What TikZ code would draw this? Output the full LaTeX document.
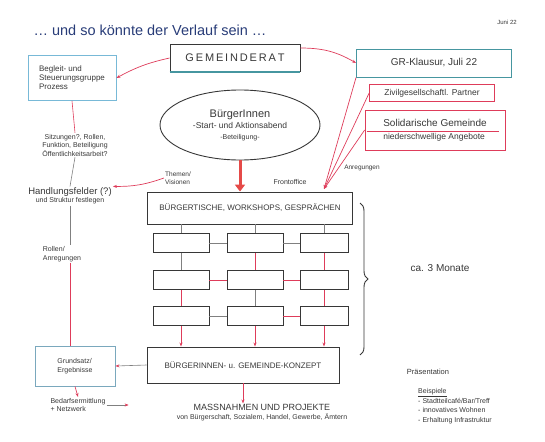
\documentclass[tikz,border=0pt]{standalone}
\usepackage{fontspec}
\setmainfont{Liberation Sans}
\usetikzlibrary{shapes.geometric,arrows.meta,decorations.pathreplacing,calc}
\definecolor{redpen}{RGB}{222,60,90}
\definecolor{navy}{RGB}{40,60,120}
\definecolor{pen}{RGB}{55,55,55}
\definecolor{bluepen}{RGB}{120,185,215}
\definecolor{tealpen}{RGB}{70,150,160}
\begin{document}
\begin{tikzpicture}[x=1pt,y=-1pt,
  every node/.style={text=pen},
  box/.style={draw=pen, line width=0.9pt, inner sep=2pt, align=center},
  redbox/.style={draw=redpen, line width=0.7pt, inner sep=2pt, align=center},
  bluebox/.style={draw=bluepen, line width=0.9pt, inner sep=3pt, align=left},
  cell/.style={draw=pen, line width=0.9pt, minimum height=19pt},
  note/.style={align=center, inner sep=1pt},
  redarr/.style={draw=redpen, line width=0.7pt, -{Stealth[length=4pt]}},
  redline/.style={draw=redpen, line width=0.6pt},
  grayline/.style={draw=gray, line width=0.6pt},
  grayarr/.style={draw=gray, line width=0.6pt, -{Stealth[length=4pt,color=redpen]}},
]
\useasboundingbox (0,0) rectangle (545,441);

% title
\node[note, text=navy, font=\fontsize{14.5}{16}\selectfont] (title) at (150,30) {… und so könnte der Verlauf sein …};
\node[note, font=\fontsize{6}{7}\selectfont] (date) at (507,22) {Juni 22};

% top boxes
\node[box, minimum width=130pt, minimum height=27pt, font=\fontsize{11}{13}\selectfont] (gr) at (235,58) {G\,E\,M\,E\,I\,N\,D\,E\,R\,A\,T};
\draw[tealpen, line width=1.2pt] (gr.south west) -- (gr.south east);
\node[box, draw=tealpen, minimum width=155pt, minimum height=28pt, font=\fontsize{10}{12}\selectfont] (kl) at (434,63) {GR-Klausur, Juli 22};
\node[bluebox, minimum width=88pt, minimum height=45pt, font=\fontsize{8}{9}\selectfont] (beg) at (72,78) {Begleit- und\\Steuerungsgruppe\\Prozess};
\node[redbox, minimum width=125pt, minimum height=17pt, font=\fontsize{8.5}{10}\selectfont] (ziv) at (432,93) {Zivilgesellschaftl. Partner};
\node[redbox, minimum width=140pt, minimum height=40pt, align=left, font=\fontsize{8.5}{13}\selectfont] (sol) at (435,130) {{\fontsize{10}{13}\selectfont Solidarische Gemeinde}\\niederschwellige Angebote};
\draw[redline] ($(sol.west)+(2,1)$) -- ($(sol.east)+(-6,1)$);

% left column
\node[note, font=\fontsize{7}{8.5}\selectfont] (sitz) at (75,145) {Sitzungen?, Rollen,\\Funktion, Beteiligung\\Öffentlichkeitsarbeit?};
\node[note, font=\fontsize{7}{8.5}\selectfont] (handl) at (70,196) {{\fontsize{9.5}{11}\selectfont Handlungsfelder (?)}\\und Struktur festlegen};
\node[note, align=left, font=\fontsize{7}{8.5}\selectfont] (rol) at (62,254) {Rollen/\\Anregungen};
\node[bluebox, draw=bluepen!70!gray, minimum width=80pt, minimum height=40pt, font=\fontsize{7}{8.5}\selectfont] (gru) at (75,366) {Grundsatz/\\Ergebnisse};
\node[note, align=left, font=\fontsize{7}{8.5}\selectfont] (bed) at (78,405) {Bedarfsermittlung\\+ Netzwerk};

% ellipse
\node[draw=pen, line width=0.9pt, ellipse, minimum width=160pt, minimum height=70pt, inner sep=0pt, align=center, font=\fontsize{8.5}{11}\selectfont] (ell) at (240,125) {{\fontsize{11}{13}\selectfont BürgerInnen}\\-Start- und Aktionsabend\\{\fontsize{7}{9}\selectfont -Beteiligung-}};

% small labels
\node[note, align=left, font=\fontsize{6.5}{7.5}\selectfont] (them) at (178,178) {Themen/\\Visionen};
\node[note, font=\fontsize{7}{8}\selectfont] (front) at (290,182) {Frontoffice};
\node[note, font=\fontsize{6.5}{7.5}\selectfont] (anr) at (362,168) {Anregungen};

% main box
\node[box, minimum width=205pt, minimum height=32pt, font=\fontsize{8}{10}\selectfont] (main) at (250,208) {BÜRGERTISCHE, WORKSHOPS, GESPRÄCHEN};

% grid
\foreach \r/\y in {1/243,2/280,3/316}{
  \node[cell, minimum width=56pt] (c\r1) at (181,\y) {};
  \node[cell, minimum width=56pt] (c\r2) at (255,\y) {};
  \node[cell, minimum width=48pt] (c\r3) at (324,\y) {};
}

% concept and measures
\node[box, minimum width=192pt, minimum height=36pt, font=\fontsize{8}{10}\selectfont] (kon) at (243,365) {BÜRGERINNEN- u. GEMEINDE-KONZEPT};
\node[note, font=\fontsize{7}{9}\selectfont] (mas) at (262,413) {{\fontsize{9}{11}\selectfont MASSNAHMEN UND PROJEKTE}\\von Bürgerschaft, Sozialem, Handel, Gewerbe, Ämtern};

% right side
\coordinate (bt) at (360,203);
\coordinate (bb) at (360,355);
\draw[pen, line width=0.9pt, decorate, decoration={brace, amplitude=8pt}] (bt) -- (bb);
\node[note, font=\fontsize{10}{12}\selectfont] (ca) at (440,268) {ca. 3 Monate};
\node[note, font=\fontsize{7.5}{9}\selectfont] (pra) at (428,372) {Präsentation};
\node[note, align=left, font=\fontsize{7}{9.5}\selectfont] (bsp) at (455,406) {\underline{Beispiele}\\- Stadtteilcafé/Bar/Treff\\- innovatives Wohnen\\- Erhaltung Infrastruktur};

% connectors top
\draw[redarr] (gr.west) to[bend right=8] (beg.east);
\draw[redarr] ($(gr.east)+(0,-10)$) to[bend left=15] (kl.west);

% left chain
\draw[redline] (beg.south) -- (sitz.north);
\draw[grayline] (sitz.south) -- (handl.north);
\draw[grayline] (handl.south) -- (rol.north -| handl.south);
\draw[redline] (rol.south -| handl.south) -- (gru.north -| handl.south);
\draw[redarr] (gru.south) -- (bed.north);
\draw[grayarr] (kon.west) -- (gru.east);
\draw[grayarr] (bed.east) -- ($(bed.east)+(22,0)$);

% ellipse to main
\draw[draw=redpen!80!orange, line width=3pt, -{Triangle[length=7pt,width=10pt]}] (ell.south) -- (main.north -| ell.south);
\draw[redarr] (them.west) to[bend left=10] (handl.north east);

% red lines from right boxes
\coordinate (fo) at (324,189);
\draw[redarr] (kl.south west) -- (fo);
\draw[redarr] (ziv.west) -- (fo);
\draw[redarr] (sol.west) -- (fo);

% grid connectors
\draw[grayline] (main.south -| c11.north) -- (c11.north);
\draw[grayline] (main.south -| c12.north) -- (c12.north);
\draw[grayline] (main.south -| c13.north) -- (c13.north);
\draw[grayline] (c11.east) -- (c12.west);
\draw[grayline] (c12.east) -- (c13.west);
\draw[redline] (c21.east) -- (c22.west);
\draw[redline] (c22.east) -- (c23.west);
\draw[grayline] (c31.east) -- (c32.west);
\draw[redline] (c32.east) -- (c33.west);
\draw[grayline] (c11.south) -- (c21.north);
\draw[redline] (c12.south) -- (c22.north);
\draw[redline] (c13.south) -- (c23.north);
\draw[redline] (c21.south) -- (c31.north);
\draw[grayline] (c22.south) -- (c32.north);
\draw[redline] (c23.south) -- (c33.north);
\draw[redarr] (c31.south) -- (kon.north -| c31.south);
\draw[redarr] (c32.south) -- (kon.north -| c32.south);
\draw[redarr] (c33.south) -- (kon.north -| c33.south);
\draw[redarr] (kon.south) -- (mas.north -| kon.south);
\end{tikzpicture}
\end{document}
